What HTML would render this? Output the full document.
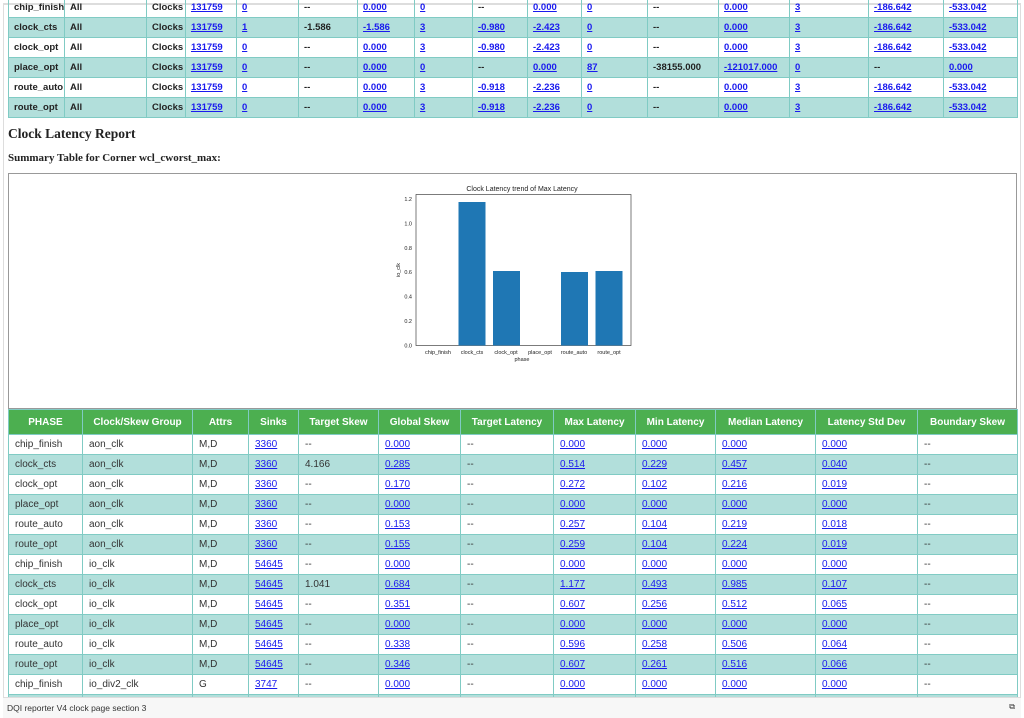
<!DOCTYPE html>
<html><head><meta charset="utf-8"><style>
*{margin:0;padding:0;box-sizing:border-box}
body{width:1024px;height:718px;overflow:hidden;background:#fff;font-family:"Liberation Sans",sans-serif;position:relative}
.frame{position:absolute;left:3px;top:3px;width:1018px;height:715px;border:1px solid #ddd;border-top:2px solid #ddd}
table{position:absolute;border-collapse:collapse;table-layout:fixed}
td,th{border:1px solid #80cbc4;height:20px;padding:0 0 0 5px;white-space:nowrap;overflow:hidden;text-align:left}
tr.t td{background:#b2dfdb}
a{color:#1a1aee;text-decoration:underline}
#t1{left:8px;top:-3px;width:1009px;font-size:9.5px;font-weight:bold;color:#222}
#t2{left:8px;top:409px;width:1009px;font-size:10px;color:#333}
#t2 th{background:#4caf50;color:#fff;height:25px;text-align:center;font-weight:bold;padding:0}
#t2 td{padding-left:6px}
h2{position:absolute;left:8px;top:126px;font-family:"Liberation Serif",serif;font-size:13.5px;font-weight:bold;color:#222}
h3{position:absolute;left:8px;top:152px;font-family:"Liberation Serif",serif;font-size:11px;font-weight:bold;color:#222}
.cbox{position:absolute;left:8px;top:173px;width:1009px;height:236px;border:1px solid #999}
.foot{position:absolute;left:3px;top:697px;width:1018px;height:21px;background:#f7f7f7;border-top:1px solid #ddd;font-size:8.5px;color:#333;padding:5px 0 0 4px}
</style></head><body>
<div class="frame"></div>
<table id="t1">
<colgroup><col style="width:56px"><col style="width:82px"><col style="width:39px"><col style="width:51px"><col style="width:62px"><col style="width:59px"><col style="width:57px"><col style="width:58px"><col style="width:55px"><col style="width:54px"><col style="width:66px"><col style="width:71px"><col style="width:71px"><col style="width:79px"><col style="width:75px"><col style="width:74px"></colgroup>
<tr><td>chip_finish</td><td>All</td><td>Clocks</td><td><a>131759</a></td><td><a>0</a></td><td>--</td><td><a>0.000</a></td><td><a>0</a></td><td>--</td><td><a>0.000</a></td><td><a>0</a></td><td>--</td><td><a>0.000</a></td><td><a>3</a></td><td><a>-186.642</a></td><td><a>-533.042</a></td></tr>
<tr class="t"><td>clock_cts</td><td>All</td><td>Clocks</td><td><a>131759</a></td><td><a>1</a></td><td>-1.586</td><td><a>-1.586</a></td><td><a>3</a></td><td><a>-0.980</a></td><td><a>-2.423</a></td><td><a>0</a></td><td>--</td><td><a>0.000</a></td><td><a>3</a></td><td><a>-186.642</a></td><td><a>-533.042</a></td></tr>
<tr><td>clock_opt</td><td>All</td><td>Clocks</td><td><a>131759</a></td><td><a>0</a></td><td>--</td><td><a>0.000</a></td><td><a>3</a></td><td><a>-0.980</a></td><td><a>-2.423</a></td><td><a>0</a></td><td>--</td><td><a>0.000</a></td><td><a>3</a></td><td><a>-186.642</a></td><td><a>-533.042</a></td></tr>
<tr class="t"><td>place_opt</td><td>All</td><td>Clocks</td><td><a>131759</a></td><td><a>0</a></td><td>--</td><td><a>0.000</a></td><td><a>0</a></td><td>--</td><td><a>0.000</a></td><td><a>87</a></td><td>-38155.000</td><td><a>-121017.000</a></td><td><a>0</a></td><td>--</td><td><a>0.000</a></td></tr>
<tr><td>route_auto</td><td>All</td><td>Clocks</td><td><a>131759</a></td><td><a>0</a></td><td>--</td><td><a>0.000</a></td><td><a>3</a></td><td><a>-0.918</a></td><td><a>-2.236</a></td><td><a>0</a></td><td>--</td><td><a>0.000</a></td><td><a>3</a></td><td><a>-186.642</a></td><td><a>-533.042</a></td></tr>
<tr class="t"><td>route_opt</td><td>All</td><td>Clocks</td><td><a>131759</a></td><td><a>0</a></td><td>--</td><td><a>0.000</a></td><td><a>3</a></td><td><a>-0.918</a></td><td><a>-2.236</a></td><td><a>0</a></td><td>--</td><td><a>0.000</a></td><td><a>3</a></td><td><a>-186.642</a></td><td><a>-533.042</a></td></tr>
</table>
<h2>Clock Latency Report</h2>
<h3>Summary Table for Corner wcl_cworst_max:</h3>
<div class="cbox"></div>
<svg style="position:absolute;left:380px;top:180px" width="260" height="190" font-family="Liberation Sans,sans-serif">
<text x="142" y="11" font-size="7" text-anchor="middle" fill="#222">Clock Latency trend of Max Latency</text>
<rect x="36" y="14.5" width="215" height="151" fill="none" stroke="#444" stroke-width="0.7"/>
<g fill="#1f77b4">
<rect x="78.5" y="22" width="27" height="143.5"/>
<rect x="113" y="91" width="27" height="74.5"/>
<rect x="181" y="92" width="27" height="73.5"/>
<rect x="215.5" y="91" width="27" height="74.5"/>
</g>
<g font-size="5.5" fill="#222" text-anchor="end">
<text x="32" y="167.5">0.0</text><text x="32" y="143">0.2</text><text x="32" y="118.5">0.4</text><text x="32" y="94">0.6</text><text x="32" y="70">0.8</text><text x="32" y="45.5">1.0</text><text x="32" y="21">1.2</text>
</g>
<g font-size="5.5" fill="#222" text-anchor="middle">
<text x="58" y="174">chip_finish</text><text x="92" y="174">clock_cts</text><text x="126" y="174">clock_opt</text><text x="160" y="174">place_opt</text><text x="194" y="174">route_auto</text><text x="229" y="174">route_opt</text>
<text x="142" y="181">phase</text>
</g>
<text x="0" y="0" font-size="5.5" fill="#222" text-anchor="middle" transform="translate(20,90) rotate(-90)">io_clk</text>
</svg>
<table id="t2">
<colgroup><col style="width:74px"><col style="width:110px"><col style="width:56px"><col style="width:50px"><col style="width:80px"><col style="width:82px"><col style="width:93px"><col style="width:82px"><col style="width:80px"><col style="width:100px"><col style="width:102px"><col style="width:100px"></colgroup>
<tr><th>PHASE</th><th>Clock/Skew Group</th><th>Attrs</th><th>Sinks</th><th>Target Skew</th><th>Global Skew</th><th>Target Latency</th><th>Max Latency</th><th>Min Latency</th><th>Median Latency</th><th>Latency Std Dev</th><th>Boundary Skew</th></tr>
<tr><td>chip_finish</td><td>aon_clk</td><td>M,D</td><td><a>3360</a></td><td>--</td><td><a>0.000</a></td><td>--</td><td><a>0.000</a></td><td><a>0.000</a></td><td><a>0.000</a></td><td><a>0.000</a></td><td>--</td></tr>
<tr class="t"><td>clock_cts</td><td>aon_clk</td><td>M,D</td><td><a>3360</a></td><td>4.166</td><td><a>0.285</a></td><td>--</td><td><a>0.514</a></td><td><a>0.229</a></td><td><a>0.457</a></td><td><a>0.040</a></td><td>--</td></tr>
<tr><td>clock_opt</td><td>aon_clk</td><td>M,D</td><td><a>3360</a></td><td>--</td><td><a>0.170</a></td><td>--</td><td><a>0.272</a></td><td><a>0.102</a></td><td><a>0.216</a></td><td><a>0.019</a></td><td>--</td></tr>
<tr class="t"><td>place_opt</td><td>aon_clk</td><td>M,D</td><td><a>3360</a></td><td>--</td><td><a>0.000</a></td><td>--</td><td><a>0.000</a></td><td><a>0.000</a></td><td><a>0.000</a></td><td><a>0.000</a></td><td>--</td></tr>
<tr><td>route_auto</td><td>aon_clk</td><td>M,D</td><td><a>3360</a></td><td>--</td><td><a>0.153</a></td><td>--</td><td><a>0.257</a></td><td><a>0.104</a></td><td><a>0.219</a></td><td><a>0.018</a></td><td>--</td></tr>
<tr class="t"><td>route_opt</td><td>aon_clk</td><td>M,D</td><td><a>3360</a></td><td>--</td><td><a>0.155</a></td><td>--</td><td><a>0.259</a></td><td><a>0.104</a></td><td><a>0.224</a></td><td><a>0.019</a></td><td>--</td></tr>
<tr><td>chip_finish</td><td>io_clk</td><td>M,D</td><td><a>54645</a></td><td>--</td><td><a>0.000</a></td><td>--</td><td><a>0.000</a></td><td><a>0.000</a></td><td><a>0.000</a></td><td><a>0.000</a></td><td>--</td></tr>
<tr class="t"><td>clock_cts</td><td>io_clk</td><td>M,D</td><td><a>54645</a></td><td>1.041</td><td><a>0.684</a></td><td>--</td><td><a>1.177</a></td><td><a>0.493</a></td><td><a>0.985</a></td><td><a>0.107</a></td><td>--</td></tr>
<tr><td>clock_opt</td><td>io_clk</td><td>M,D</td><td><a>54645</a></td><td>--</td><td><a>0.351</a></td><td>--</td><td><a>0.607</a></td><td><a>0.256</a></td><td><a>0.512</a></td><td><a>0.065</a></td><td>--</td></tr>
<tr class="t"><td>place_opt</td><td>io_clk</td><td>M,D</td><td><a>54645</a></td><td>--</td><td><a>0.000</a></td><td>--</td><td><a>0.000</a></td><td><a>0.000</a></td><td><a>0.000</a></td><td><a>0.000</a></td><td>--</td></tr>
<tr><td>route_auto</td><td>io_clk</td><td>M,D</td><td><a>54645</a></td><td>--</td><td><a>0.338</a></td><td>--</td><td><a>0.596</a></td><td><a>0.258</a></td><td><a>0.506</a></td><td><a>0.064</a></td><td>--</td></tr>
<tr class="t"><td>route_opt</td><td>io_clk</td><td>M,D</td><td><a>54645</a></td><td>--</td><td><a>0.346</a></td><td>--</td><td><a>0.607</a></td><td><a>0.261</a></td><td><a>0.516</a></td><td><a>0.066</a></td><td>--</td></tr>
<tr><td>chip_finish</td><td>io_div2_clk</td><td>G</td><td><a>3747</a></td><td>--</td><td><a>0.000</a></td><td>--</td><td><a>0.000</a></td><td><a>0.000</a></td><td><a>0.000</a></td><td><a>0.000</a></td><td>--</td></tr>
<tr class="t"><td></td><td></td><td></td><td></td><td></td><td></td><td></td><td></td><td></td><td></td><td></td><td></td></tr>
</table>
<div class="foot">DQI reporter V4 clock page section 3<span style="position:absolute;right:6px;top:4px;font-size:8px">⧉</span></div>
</body></html>
